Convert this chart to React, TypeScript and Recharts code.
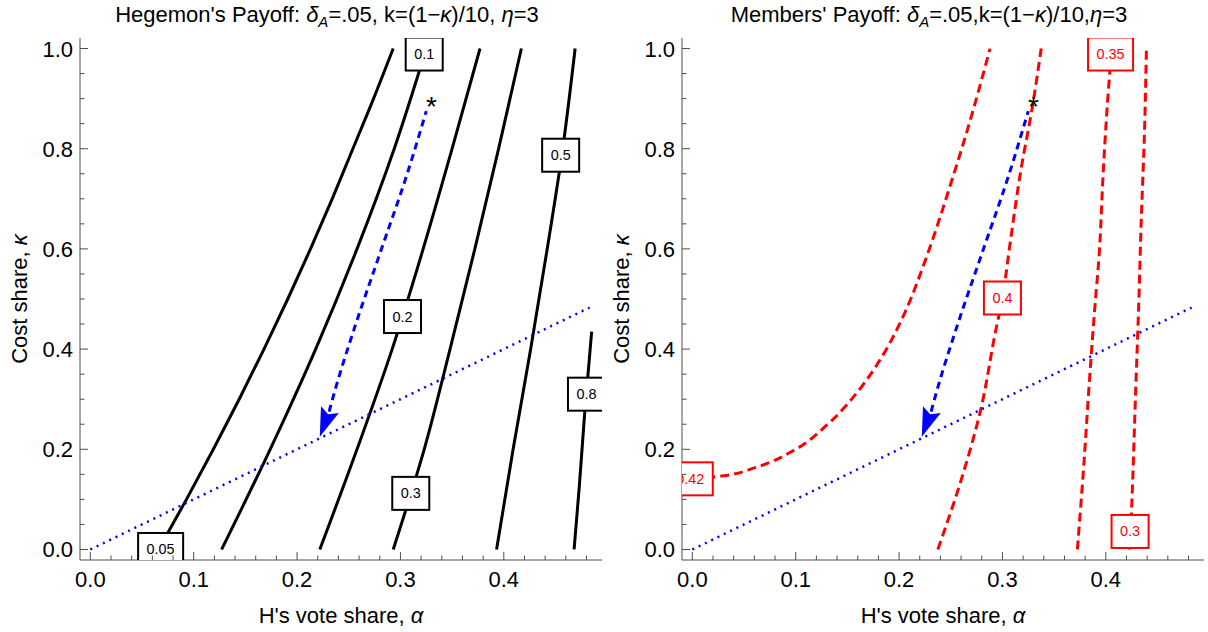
import React from 'react';
import { ComposedChart, Line, Scatter, XAxis, YAxis } from 'recharts';

const FONT = '"Liberation Sans", Arial, Helvetica, sans-serif';
const FRAME = '#4d4d4d';
const BLUE = '#0000ff';
const RED = '#ff0000';

const X_DOMAIN: [number, number] = [-0.01, 0.495];
const Y_DOMAIN: [number, number] = [-0.021, 1.021];

// frame ticks (Mathematica style, inward); labelled ones are the majors
const X_TICKS = [
  0, 0.02, 0.04, 0.06, 0.08, 0.1, 0.12, 0.14, 0.16, 0.18, 0.2, 0.22, 0.24,
  0.26, 0.28, 0.3, 0.32, 0.34, 0.36, 0.38, 0.4, 0.42, 0.44, 0.46, 0.48,
];
const X_MAJOR = [0, 0.1, 0.2, 0.3, 0.4];
const Y_TICKS = [
  0, 0.05, 0.1, 0.15, 0.2, 0.25, 0.3, 0.35, 0.4, 0.45, 0.5, 0.55, 0.6, 0.65,
  0.7, 0.75, 0.8, 0.85, 0.9, 0.95, 1,
];
const Y_MAJOR = [0, 0.2, 0.4, 0.6, 0.8, 1];

// Hegemon's payoff contours (alpha, kappa)
const hegemon005 = [
  { x: 0.066, y: 0 }, { x: 0.093, y: 0.1 }, { x: 0.119, y: 0.2 }, { x: 0.144, y: 0.3 },
  { x: 0.168, y: 0.4 }, { x: 0.191, y: 0.5 }, { x: 0.213, y: 0.6 }, { x: 0.234, y: 0.7 },
  { x: 0.254, y: 0.8 }, { x: 0.274, y: 0.9 }, { x: 0.293, y: 1 },
];
const hegemon01 = [
  { x: 0.127, y: 0 }, { x: 0.174, y: 0.2 }, { x: 0.218, y: 0.4 }, { x: 0.258, y: 0.6 },
  { x: 0.294, y: 0.8 }, { x: 0.325, y: 1 },
];
const hegemon02 = [
  { x: 0.222, y: 0 }, { x: 0.258, y: 0.2 }, { x: 0.292, y: 0.4 }, { x: 0.322, y: 0.6 },
  { x: 0.35, y: 0.8 }, { x: 0.377, y: 1 },
];
const hegemon03 = [
  { x: 0.293, y: 0 }, { x: 0.323, y: 0.2 }, { x: 0.348, y: 0.4 }, { x: 0.372, y: 0.6 },
  { x: 0.395, y: 0.8 }, { x: 0.417, y: 1 },
];
const hegemon05 = [
  { x: 0.393, y: 0 }, { x: 0.409, y: 0.2 }, { x: 0.426, y: 0.4 }, { x: 0.442, y: 0.6 },
  { x: 0.457, y: 0.8 }, { x: 0.469, y: 1 },
];
const hegemon08 = [
  { x: 0.468, y: 0 }, { x: 0.473, y: 0.125 }, { x: 0.478, y: 0.265 }, { x: 0.485, y: 0.435 },
];
const HEGEMON_CURVES = [hegemon005, hegemon01, hegemon02, hegemon03, hegemon05, hegemon08];
const HEGEMON_LABELS = [
  { x: 0.068, y: 0, text: '0.05' },
  { x: 0.323, y: 0.989, text: '0.1' },
  { x: 0.302, y: 0.465, text: '0.2' },
  { x: 0.31, y: 0.112, text: '0.3' },
  { x: 0.455, y: 0.787, text: '0.5' },
  { x: 0.48, y: 0.31, text: '0.8' },
];

// Members' payoff contours
const members042 = [
  { x: 0, y: 0.14 }, { x: 0.03, y: 0.147 }, { x: 0.06, y: 0.163 }, { x: 0.1, y: 0.2 },
  { x: 0.13, y: 0.248 }, { x: 0.16, y: 0.315 }, { x: 0.185, y: 0.39 }, { x: 0.205, y: 0.47 },
  { x: 0.225, y: 0.575 }, { x: 0.25, y: 0.73 }, { x: 0.27, y: 0.865 }, { x: 0.288, y: 1 },
];
const members04 = [
  { x: 0.2375, y: 0 }, { x: 0.261, y: 0.145 }, { x: 0.279, y: 0.279 }, { x: 0.293, y: 0.432 },
  { x: 0.3, y: 0.502 }, { x: 0.307, y: 0.605 }, { x: 0.318, y: 0.759 }, { x: 0.3286, y: 0.879 },
  { x: 0.3375, y: 1 },
];
const members035 = [
  { x: 0.3725, y: 0 }, { x: 0.3786, y: 0.165 }, { x: 0.384, y: 0.332 }, { x: 0.39, y: 0.499 },
  { x: 0.393, y: 0.572 }, { x: 0.398, y: 0.772 }, { x: 0.4036, y: 0.945 }, { x: 0.406, y: 1 },
];
const members03 = [
  { x: 0.423, y: 0 }, { x: 0.425, y: 0.085 }, { x: 0.4286, y: 0.299 }, { x: 0.432, y: 0.499 },
  { x: 0.434, y: 0.639 }, { x: 0.4375, y: 0.839 }, { x: 0.4393, y: 1 },
];
const MEMBER_CURVES = [members042, members04, members035, members03];
const MEMBER_LABELS = [
  { x: -0.002, y: 0.141, text: '0.42' },
  { x: 0.3, y: 0.502, text: '0.4' },
  { x: 0.4046, y: 0.989, text: '0.35' },
  { x: 0.4235, y: 0.036, text: '0.3' },
];

// shared overlays: kappa = alpha line, adjustment path, start point
const DIAGONAL = [{ x: 0, y: 0 }, { x: 0.483, y: 0.483 }];
const PATH = [
  { x: 0.231, y: 0.275 }, { x: 0.237, y: 0.32 }, { x: 0.256, y: 0.445 }, { x: 0.28, y: 0.59 },
  { x: 0.305, y: 0.74 }, { x: 0.325, y: 0.875 },
];
const ARROW_TIP = [{ x: 0.222, y: 0.225 }];
const STAR = [{ x: 0.33, y: 0.897 }];

const PLOT = 522; // square frame, both panels
const PX_X = PLOT / (X_DOMAIN[1] - X_DOMAIN[0]);
const PX_Y = PLOT / (Y_DOMAIN[1] - Y_DOMAIN[0]);

const isMajor = (v: number, majors: number[]) => majors.some((m) => Math.abs(m - v) < 1e-9);

const frameTick = (side: 'bottom' | 'top' | 'left' | 'right') => (props: any) => {
  const { x, y, payload } = props;
  const v = payload.value;
  const major = isMajor(v, side === 'bottom' || side === 'top' ? X_MAJOR : Y_MAJOR);
  const len = major ? 8 : 4.5;
  let line;
  if (side === 'bottom') line = <line x1={x} y1={y} x2={x} y2={y - len} />;
  else if (side === 'top') line = <line x1={x} y1={y} x2={x} y2={y + len} />;
  else if (side === 'left') line = <line x1={x} y1={y} x2={x + len} y2={y} />;
  else line = <line x1={x} y1={y} x2={x - len} y2={y} />;
  return (
    <g>
      <g stroke={FRAME} strokeWidth={1}>{line}</g>
      {major && side === 'bottom' && (
        <text x={x} y={y + 26.5} textAnchor="middle" fontSize={22} fontFamily={FONT} fill="#000">
          {v.toFixed(1)}
        </text>
      )}
      {major && side === 'left' && (
        <text x={x - 7} y={y + 8} textAnchor="end" fontSize={22} fontFamily={FONT} fill="#000">
          {v.toFixed(1)}
        </text>
      )}
    </g>
  );
};

const ContourLabel = (props: any) => {
  const { cx, cy, payload, color } = props;
  const text: string = payload.text;
  const textW = text.split('').reduce((s, c) => s + (c === '.' ? 0.278 : 0.556), 0) * 14.4;
  const w = textW + 17;
  const h = 33;
  return (
    <g>
      <rect x={cx - w / 2} y={cy - h / 2} width={w} height={h} fill="#fff" stroke={color} strokeWidth={2} />
      <text x={cx} y={cy + 5} textAnchor="middle" fontSize={14.4} fontFamily={FONT} fill={color}>
        {text}
      </text>
    </g>
  );
};

const ArrowHead = (props: any) => {
  const { cx, cy } = props;
  const base = PATH[0];
  const tip = ARROW_TIP[0];
  const dx = (tip.x - base.x) * PX_X;
  const dy = -(tip.y - base.y) * PX_Y;
  const ang = (Math.atan2(dy, dx) * 180) / Math.PI;
  return (
    <polygon
      points="0,0 -29,-9.5 -24,0 -29,9.5"
      transform={`translate(${cx},${cy}) rotate(${ang})`}
      fill={BLUE}
    />
  );
};

const StarMark = (props: any) => (
  <text x={props.cx} y={props.cy + 16} textAnchor="middle" fontSize={28} fontFamily={FONT} fill="#000">
    *
  </text>
);

const lineProps = {
  dataKey: 'y',
  type: 'monotoneY' as const,
  dot: false,
  activeDot: false,
  isAnimationActive: false,
};

const axisCommon = {
  type: 'number' as const,
  allowDataOverflow: true,
  interval: 0 as const,
  tickSize: 0,
  tickMargin: 0,
  tickLine: false,
  axisLine: { stroke: FRAME },
};

const Panel: React.FC<{ left: number; width: number; right: number; children: React.ReactNode }> = ({
  left,
  width,
  right,
  children,
}) => (
  <div style={{ position: 'absolute', left, top: 0 }}>
    <ComposedChart width={width} height={632} margin={{ top: 38, right, bottom: 0, left: 0 }}>
      <XAxis {...axisCommon} dataKey="x" domain={X_DOMAIN} ticks={X_TICKS} height={72} tick={frameTick('bottom')} />
      <XAxis
        {...axisCommon}
        xAxisId="top"
        orientation="top"
        dataKey="x"
        domain={X_DOMAIN}
        ticks={X_TICKS}
        height={0}
        tick={frameTick('top')}
      />
      <YAxis {...axisCommon} dataKey="y" domain={Y_DOMAIN} ticks={Y_TICKS} width={80} tick={frameTick('left')} />
      <YAxis
        {...axisCommon}
        yAxisId="right"
        orientation="right"
        dataKey="y"
        domain={Y_DOMAIN}
        ticks={Y_TICKS}
        width={0}
        tick={frameTick('right')}
      />
      {children}
    </ComposedChart>
  </div>
);

const overlays = () => [
  <Line key="diag" data={DIAGONAL} {...lineProps} type="linear" stroke={BLUE} strokeWidth={2.5} strokeDasharray="2 5" />,
  <Line key="path" data={PATH} {...lineProps} stroke={BLUE} strokeWidth={3} strokeDasharray="7 5" />,
  <Scatter key="tip" data={ARROW_TIP} dataKey="y" shape={ArrowHead} isAnimationActive={false} />,
  <Scatter key="star" data={STAR} dataKey="y" shape={StarMark} isAnimationActive={false} />,
];

const Title: React.FC<{ cx: number; name: string; sep: string }> = ({ cx, name, sep }) => (
  <text x={cx} y={22} textAnchor="middle" fontSize={22} fontFamily={FONT} fill="#000">
    {name}: <tspan fontStyle="italic">δ</tspan>
    <tspan fontStyle="italic" fontSize={15} dy={5}>A</tspan>
    <tspan dy={-5}>=.05,{sep}k=(1−</tspan>
    <tspan fontStyle="italic">κ</tspan>
    <tspan>)/10,{sep}</tspan>
    <tspan fontStyle="italic">η</tspan>
    <tspan>=3</tspan>
  </text>
);

const AxisTitles: React.FC<{ cx: number; ly: number }> = ({ cx, ly }) => (
  <g fontFamily={FONT} fontSize={22} fill="#000">
    <text x={cx} y={623} textAnchor="middle">
      H's vote share, <tspan fontStyle="italic">α</tspan>
    </text>
    <text transform={`translate(${ly},299) rotate(-90)`} textAnchor="middle">
      Cost share, <tspan fontStyle="italic">κ</tspan>
    </text>
  </g>
);

export default function App() {
  return (
    <div style={{ position: 'absolute', left: 0, top: 0, width: 1208, height: 632, background: '#fff' }}>
      <Panel left={0} width={604} right={2}>
        {HEGEMON_CURVES.map((d, i) => (
          <Line key={`h${i}`} data={d} {...lineProps} stroke="#000" strokeWidth={3} />
        ))}
        <Scatter
          data={HEGEMON_LABELS}
          dataKey="y"
          shape={(p: any) => <ContourLabel {...p} color="#000" />}
          isAnimationActive={false}
        />
        {overlays()}
      </Panel>
      <Panel left={602} width={606} right={4}>
        {MEMBER_CURVES.map((d, i) => (
          <Line key={`m${i}`} data={d} {...lineProps} stroke={RED} strokeWidth={3} strokeDasharray="9 5" />
        ))}
        <Scatter
          data={MEMBER_LABELS}
          dataKey="y"
          shape={(p: any) => <ContourLabel {...p} color={RED} />}
          isAnimationActive={false}
        />
        {overlays()}
      </Panel>
      <svg width={1208} height={632} style={{ position: 'absolute', left: 0, top: 0, pointerEvents: 'none' }}>
        <Title cx={327} name="Hegemon's Payoff" sep=" " />
        <Title cx={929} name="Members' Payoff" sep="" />
        <AxisTitles cx={341} ly={27} />
        <AxisTitles cx={943} ly={629} />
      </svg>
    </div>
  );
}
